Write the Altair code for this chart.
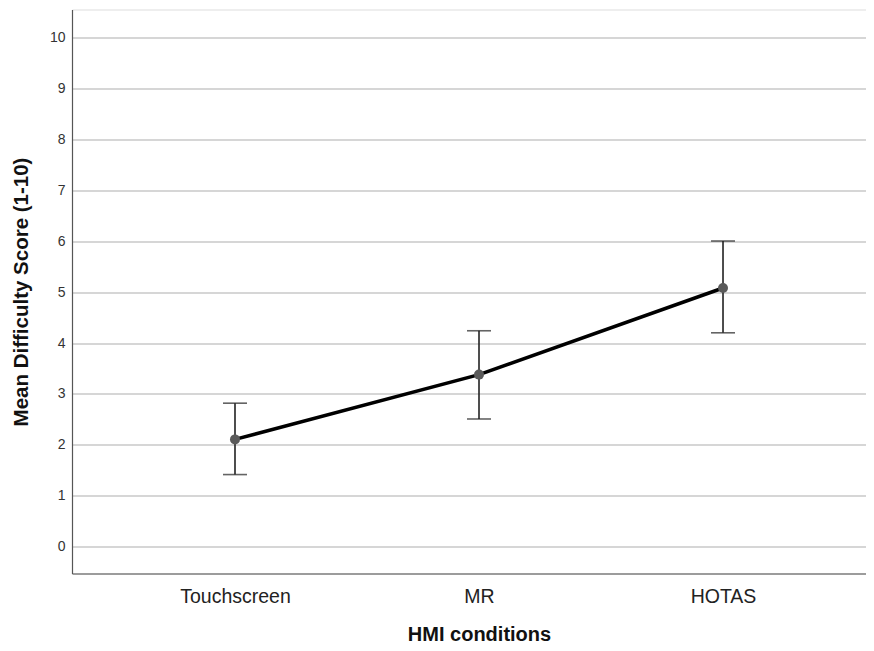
import altair as alt
import pandas as pd

categories = ["Touchscreen", "MR", "HOTAS"]
means = [2.11, 3.38, 5.08]
lower = [1.42, 2.51, 4.20]
upper = [2.82, 4.24, 6.00]

df = pd.DataFrame({
    "idx": list(range(len(categories))),
    "cond": categories,
    "mean": means,
    "lo": lower,
    "hi": upper,
})

label_expr = "[" + ",".join("'" + c + "'" for c in categories) + "][datum.value]"
FONT = "Liberation Sans"

x = alt.X("idx:Q",
          scale=alt.Scale(domain=[-0.668, 2.586], nice=False, zero=False),
          axis=alt.Axis(values=[0, 1, 2], labelExpr=label_expr, title="HMI conditions",
                        grid=False, ticks=False, labelPadding=14, labelFontSize=19.5,
                        labelColor="#222", labelFont=FONT, titleFont=FONT,
                        titleFontSize=20, titleFontWeight="bold", titleColor="#111",
                        titlePadding=18, titleX=407, domainColor="#808080", domainWidth=1.5))
y_scale = alt.Scale(domain=[-0.52, 10.54], nice=False, zero=False)
y_axis = alt.Axis(values=list(range(0, 11)), title="Mean Difficulty Score (1-10)",
                  grid=True, gridColor="#c8c8c8", gridWidth=1.5, ticks=False,
                  labelPadding=7, labelFontSize=14, labelColor="#333", labelFont=FONT,
                  titleFont=FONT, titleFontSize=20.5, titleFontWeight="bold",
                  titleColor="#111", titlePadding=18, domainColor="#555", domainWidth=1.2)

base = alt.Chart(df)

line = base.mark_line(color="black", strokeWidth=3.6).encode(
    x=x, y=alt.Y("mean:Q", scale=y_scale, axis=y_axis))
rule = base.mark_rule(color="#222", strokeWidth=1.6).encode(
    x="idx:Q", y="lo:Q", y2="hi:Q")
cap_lo = base.mark_tick(color="#222", thickness=1.6, size=24, orient="horizontal").encode(
    x="idx:Q", y="lo:Q")
cap_hi = base.mark_tick(color="#222", thickness=1.6, size=24, orient="horizontal").encode(
    x="idx:Q", y="hi:Q")
pts = base.mark_circle(color="#5a5a5a", size=100, opacity=1).encode(
    x="idx:Q", y="mean:Q")

chart = alt.layer(rule, cap_lo, cap_hi, line, pts).properties(
    width=794, height=564,
    autosize=alt.AutoSizeParams(type="none"),
    padding={"left": 64, "top": 1.5, "right": 0, "bottom": 73},
).configure_view(stroke=None).configure(background="white")

chart.save("out.html", embed_options={"renderer": "svg", "actions": False})
